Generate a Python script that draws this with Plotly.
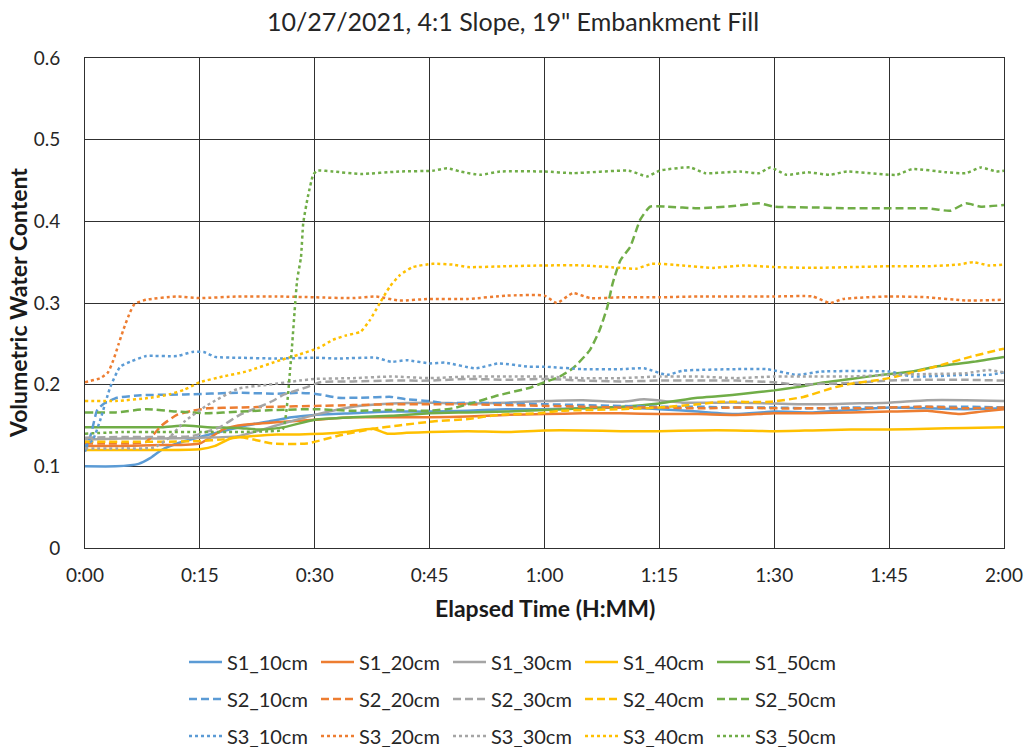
import plotly.graph_objects as go

# Elapsed time (minutes) and volumetric water content for each sensor
t_s1_10 = [0, 4, 7, 8.5, 10, 12, 15, 18, 21, 24, 27, 30, 35, 40, 45, 50, 55, 60, 65, 70, 75, 80, 85, 90, 95, 100, 105, 110, 115, 120]
v_s1_10 = [0.100, 0.100, 0.103, 0.110, 0.120, 0.128, 0.136, 0.143, 0.150, 0.155, 0.160, 0.163, 0.165, 0.167, 0.167, 0.168, 0.170, 0.170, 0.171, 0.172, 0.170, 0.167, 0.164, 0.167, 0.166, 0.169, 0.172, 0.171, 0.170, 0.171]

t_s1_20 = [0, 5, 10, 15, 18, 20, 25, 30, 35, 40, 45, 50, 55, 60, 65, 70, 75, 80, 85, 90, 95, 100, 105, 110, 114, 117, 120]
v_s1_20 = [0.125, 0.125, 0.126, 0.128, 0.145, 0.150, 0.154, 0.157, 0.160, 0.160, 0.160, 0.161, 0.163, 0.164, 0.165, 0.165, 0.164, 0.164, 0.163, 0.165, 0.165, 0.166, 0.167, 0.168, 0.164, 0.167, 0.170]

t_s1_30 = [0, 5, 10, 15, 20, 25, 30, 35, 40, 45, 50, 55, 60, 65, 70, 73, 78, 85, 90, 95, 100, 105, 110, 115, 120]
v_s1_30 = [0.133, 0.134, 0.134, 0.135, 0.137, 0.150, 0.163, 0.173, 0.177, 0.178, 0.177, 0.178, 0.180, 0.181, 0.179, 0.182, 0.178, 0.178, 0.177, 0.176, 0.177, 0.178, 0.181, 0.181, 0.180]

t_s1_40 = [0, 5, 10, 15, 17, 19, 22, 25, 28, 31, 34, 37.6, 39.5, 42, 45, 50, 55, 60, 65, 70, 75, 80, 85, 90, 95, 100, 105, 110, 115, 120]
v_s1_40 = [0.120, 0.120, 0.120, 0.121, 0.125, 0.134, 0.137, 0.139, 0.139, 0.140, 0.142, 0.146, 0.140, 0.141, 0.142, 0.143, 0.142, 0.144, 0.144, 0.143, 0.143, 0.144, 0.144, 0.143, 0.144, 0.145, 0.145, 0.146, 0.147, 0.148]

t_s1_50 = [0, 5, 10, 13, 16, 20, 23, 26, 30, 35, 40, 45, 50, 55, 60, 65, 70, 75, 80, 83, 86, 90, 93, 96, 100, 104, 108, 111, 116, 120]
v_s1_50 = [0.148, 0.148, 0.148, 0.150, 0.148, 0.147, 0.145, 0.148, 0.157, 0.160, 0.162, 0.165, 0.166, 0.167, 0.169, 0.171, 0.173, 0.177, 0.184, 0.186, 0.189, 0.193, 0.197, 0.202, 0.207, 0.212, 0.216, 0.222, 0.228, 0.234]

t_s2_10 = [0, 0.8, 1.6, 2.5, 4.2, 7.3, 13, 20, 25, 28, 30, 33, 36, 40, 42, 45, 47, 50, 55, 60, 65, 70, 75, 80, 85, 90, 95, 100, 105, 110, 115, 120]
v_s2_10 = [0.118, 0.140, 0.169, 0.177, 0.184, 0.187, 0.188, 0.190, 0.189, 0.190, 0.189, 0.184, 0.184, 0.185, 0.182, 0.180, 0.177, 0.178, 0.177, 0.176, 0.175, 0.174, 0.173, 0.173, 0.172, 0.172, 0.171, 0.172, 0.172, 0.173, 0.173, 0.172]

t_s2_20 = [0, 3, 6, 8, 10, 12, 14, 16, 20, 25, 30, 35, 40, 45, 50, 55, 60, 65, 70, 75, 80, 85, 90, 95, 100, 105, 110, 115, 120]
v_s2_20 = [0.128, 0.128, 0.128, 0.130, 0.150, 0.163, 0.168, 0.171, 0.172, 0.173, 0.174, 0.175, 0.176, 0.176, 0.176, 0.175, 0.174, 0.173, 0.172, 0.172, 0.171, 0.172, 0.171, 0.171, 0.171, 0.172, 0.173, 0.171, 0.172]

t_s2_30 = [0, 5, 10, 14, 17.6, 20.2, 22.8, 24.5, 26, 29, 30.7, 35, 40, 45, 50, 55, 60, 65, 70, 75, 80, 85, 90, 93, 96, 100, 105, 110, 115, 120]
v_s2_30 = [0.135, 0.136, 0.136, 0.137, 0.148, 0.163, 0.173, 0.180, 0.188, 0.197, 0.203, 0.204, 0.205, 0.205, 0.207, 0.206, 0.207, 0.205, 0.204, 0.205, 0.205, 0.205, 0.203, 0.200, 0.201, 0.202, 0.205, 0.206, 0.206, 0.205]

t_s2_40 = [0, 5, 10, 15, 18, 20.2, 24.5, 29, 33.3, 37.6, 41, 45.4, 50, 54, 59.4, 62, 66, 70, 75, 80, 83, 89.5, 93.8, 98, 100, 103.8, 105, 111, 115.6, 119, 120]
v_s2_40 = [0.130, 0.130, 0.130, 0.131, 0.133, 0.136, 0.128, 0.128, 0.138, 0.146, 0.150, 0.155, 0.158, 0.163, 0.165, 0.168, 0.169, 0.170, 0.172, 0.176, 0.179, 0.179, 0.185, 0.197, 0.201, 0.206, 0.208, 0.222, 0.234, 0.242, 0.244]

t_s2_50 = [0, 4, 8, 12, 16, 20, 25, 30, 35, 40, 45, 48, 50, 54, 58, 60, 62, 63.7, 65.9, 67.2, 68.2, 68.9, 69.9, 71.2, 72.5, 73.8, 76, 80, 85, 88, 90, 95, 100, 105, 110, 113, 115, 117, 120]
v_s2_50 = [0.166, 0.166, 0.170, 0.167, 0.165, 0.167, 0.169, 0.170, 0.168, 0.169, 0.168, 0.171, 0.176, 0.187, 0.196, 0.203, 0.210, 0.220, 0.242, 0.267, 0.295, 0.324, 0.352, 0.369, 0.402, 0.418, 0.418, 0.416, 0.419, 0.422, 0.418, 0.417, 0.416, 0.416, 0.416, 0.413, 0.422, 0.418, 0.420]

t_s3_10 = [0, 1, 2, 3.3, 4.6, 5.9, 8, 12, 14, 15.5, 17, 20, 25, 30, 33, 38, 40, 42, 45, 47, 51, 54, 58, 60, 65, 70, 73, 76, 78, 85, 89, 93, 96, 105, 108, 115, 118, 120]
v_s3_10 = [0.125, 0.132, 0.157, 0.197, 0.222, 0.228, 0.235, 0.235, 0.240, 0.240, 0.234, 0.233, 0.232, 0.233, 0.232, 0.233, 0.228, 0.230, 0.226, 0.227, 0.220, 0.226, 0.222, 0.222, 0.219, 0.219, 0.220, 0.212, 0.217, 0.219, 0.219, 0.212, 0.216, 0.216, 0.210, 0.212, 0.212, 0.215]

t_s3_20 = [0, 2, 3, 3.7, 4.4, 5, 5.9, 6.5, 8, 12, 15, 20, 25, 30, 35, 38, 41, 45, 50, 55, 60, 61.6, 63.7, 66, 70, 75, 80, 90, 95, 97.3, 99, 105, 110, 115, 120]
v_s3_20 = [0.203, 0.208, 0.215, 0.230, 0.250, 0.267, 0.289, 0.299, 0.304, 0.308, 0.306, 0.308, 0.308, 0.307, 0.306, 0.308, 0.303, 0.305, 0.305, 0.309, 0.309, 0.300, 0.312, 0.306, 0.307, 0.307, 0.308, 0.308, 0.308, 0.300, 0.305, 0.308, 0.307, 0.303, 0.304]

t_s3_30 = [0, 5, 9, 11, 13, 16, 20, 24, 28, 30, 35, 40, 45, 50, 55, 60, 65, 70, 75, 80, 85, 90, 95, 100, 105, 110, 115, 118, 120]
v_s3_30 = [0.122, 0.122, 0.123, 0.135, 0.155, 0.175, 0.195, 0.200, 0.205, 0.207, 0.208, 0.210, 0.208, 0.210, 0.210, 0.210, 0.208, 0.208, 0.210, 0.210, 0.208, 0.210, 0.210, 0.210, 0.212, 0.213, 0.214, 0.218, 0.215]

t_s3_40 = [0, 4, 8.6, 11, 13, 15, 18, 21, 25.5, 28, 30.5, 32.4, 34, 36, 37.2, 38.5, 39.8, 41.1, 42.8, 45.4, 48, 50, 55, 60, 65, 70, 72, 74, 78, 82, 86, 90, 95, 100, 105, 110, 114, 116, 118, 120]
v_s3_40 = [0.180, 0.180, 0.184, 0.188, 0.194, 0.203, 0.210, 0.216, 0.230, 0.237, 0.245, 0.255, 0.260, 0.265, 0.279, 0.300, 0.320, 0.334, 0.344, 0.348, 0.347, 0.344, 0.345, 0.346, 0.346, 0.343, 0.342, 0.348, 0.346, 0.343, 0.346, 0.344, 0.343, 0.344, 0.345, 0.345, 0.347, 0.350, 0.346, 0.347]

t_s3_50 = [0, 5, 10, 15, 20, 24, 25.8, 26.8, 27.7, 28.2, 28.5, 29.1, 29.8, 30.3, 32.4, 36, 41, 45.4, 47.3, 49, 51.6, 54.2, 60, 63.7, 71, 73.4, 75, 79, 81, 85.5, 88, 89.5, 91.6, 94.3, 97.3, 99.5, 106, 108, 112.5, 115, 117, 119, 120]
v_s3_50 = [0.140, 0.142, 0.142, 0.142, 0.142, 0.143, 0.145, 0.220, 0.328, 0.356, 0.398, 0.430, 0.457, 0.462, 0.461, 0.458, 0.461, 0.462, 0.465, 0.461, 0.457, 0.461, 0.461, 0.459, 0.462, 0.455, 0.462, 0.466, 0.459, 0.461, 0.459, 0.466, 0.457, 0.460, 0.457, 0.461, 0.457, 0.464, 0.460, 0.459, 0.466, 0.461, 0.462]

depth_names = ["10cm", "20cm", "30cm", "40cm", "50cm"]
depth_colors = ["#5B9BD5", "#ED7D31", "#A5A5A5", "#FFC000", "#70AD47"]
station_names = ["S1", "S2", "S3"]
station_dashes = ["solid", "8px,4px", "3px,3px"]

series_t = [
    [t_s1_10, t_s1_20, t_s1_30, t_s1_40, t_s1_50],
    [t_s2_10, t_s2_20, t_s2_30, t_s2_40, t_s2_50],
    [t_s3_10, t_s3_20, t_s3_30, t_s3_40, t_s3_50],
]
series_v = [
    [v_s1_10, v_s1_20, v_s1_30, v_s1_40, v_s1_50],
    [v_s2_10, v_s2_20, v_s2_30, v_s2_40, v_s2_50],
    [v_s3_10, v_s3_20, v_s3_30, v_s3_40, v_s3_50],
]

x_tick_vals = [0, 15, 30, 45, 60, 75, 90, 105, 120]
x_tick_text = ["0:00", "0:15", "0:30", "0:45", "1:00", "1:15", "1:30", "1:45", "2:00"]
y_tick_vals = [0, 0.1, 0.2, 0.3, 0.4, 0.5, 0.6]
y_tick_text = ["0", "0.1", "0.2", "0.3", "0.4", "0.5", "0.6"]

FONT = "Lato"
W, H = 1026, 747
ML, MR, MT, MB = 85, 22, 58, 199
PW, PH = W - ML - MR, H - MT - MB

fig = go.Figure()
legend_ids = ["legend", "legend2", "legend3"]
for si, station in enumerate(station_names):
    for di, depth in enumerate(depth_names):
        fig.add_trace(go.Scatter(
            x=series_t[si][di], y=series_v[si][di],
            mode="lines",
            name=f"{station}_{depth}",
            line=dict(color=depth_colors[di], width=2.5,
                      dash=station_dashes[si], shape="spline", smoothing=0.5),
            legend=legend_ids[si],
            hoverinfo="x+y+name",
        ))

grid_color = "#303030"
fig.update_xaxes(
    range=[0, 120], tickvals=x_tick_vals, ticktext=x_tick_text,
    showgrid=True, gridcolor=grid_color, gridwidth=1,
    showline=True, linecolor=grid_color, linewidth=1, mirror=True,
    zeroline=False, ticks="", ticklabelstandoff=10, automargin=False,
    tickfont=dict(family=FONT, size=19, color="#262626"),
)
fig.update_yaxes(
    range=[0, 0.6], tickvals=y_tick_vals, ticktext=y_tick_text,
    showgrid=True, gridcolor=grid_color, gridwidth=1,
    showline=True, linecolor=grid_color, linewidth=1, mirror=True,
    zeroline=False, ticks="", ticklabelstandoff=20, automargin=False,
    tickfont=dict(family=FONT, size=19, color="#262626"),
)

legend_rows_y = [662, 699, 736]
legend_common = dict(
    orientation="h", xref="container", yref="container",
    x=184 / W, xanchor="left", yanchor="middle",
    itemwidth=33, entrywidth=84, entrywidthmode="pixels",
    font=dict(family=FONT, size=20, color="#262626"),
    bgcolor="rgba(0,0,0,0)", borderwidth=0, itemclick=False,
)
legends = {}
for i, lid in enumerate(legend_ids):
    legends[lid] = dict(legend_common, y=1 - legend_rows_y[i] / H)

fig.update_layout(
    width=W, height=H,
    margin=dict(l=ML, r=MR, t=MT, b=MB, autoexpand=False),
    paper_bgcolor="white", plot_bgcolor="white",
    title=dict(text="10/27/2021, 4:1 Slope, 19\" Embankment Fill",
               x=0.5, xanchor="center", y=1 - 22 / H, yanchor="middle",
               yref="container", xref="container",
               font=dict(family=FONT, size=25, color="#262626")),
    showlegend=True,
    annotations=[
        dict(text="<b>Elapsed Time (H:MM)</b>", xref="paper", yref="paper",
             x=0.5, y=(H - MB - 608) / PH, xanchor="center", yanchor="middle",
             showarrow=False, font=dict(family=FONT, size=23, color="#1a1a1a")),
        dict(text="<b>Volumetric Water Content</b>", xref="paper", yref="paper",
             x=(18 - ML) / PW, y=0.5, xanchor="center", yanchor="middle", textangle=-90,
             showarrow=False, font=dict(family=FONT, size=23, color="#1a1a1a")),
    ],
    **legends,
)

fig.write_html("out.html")
